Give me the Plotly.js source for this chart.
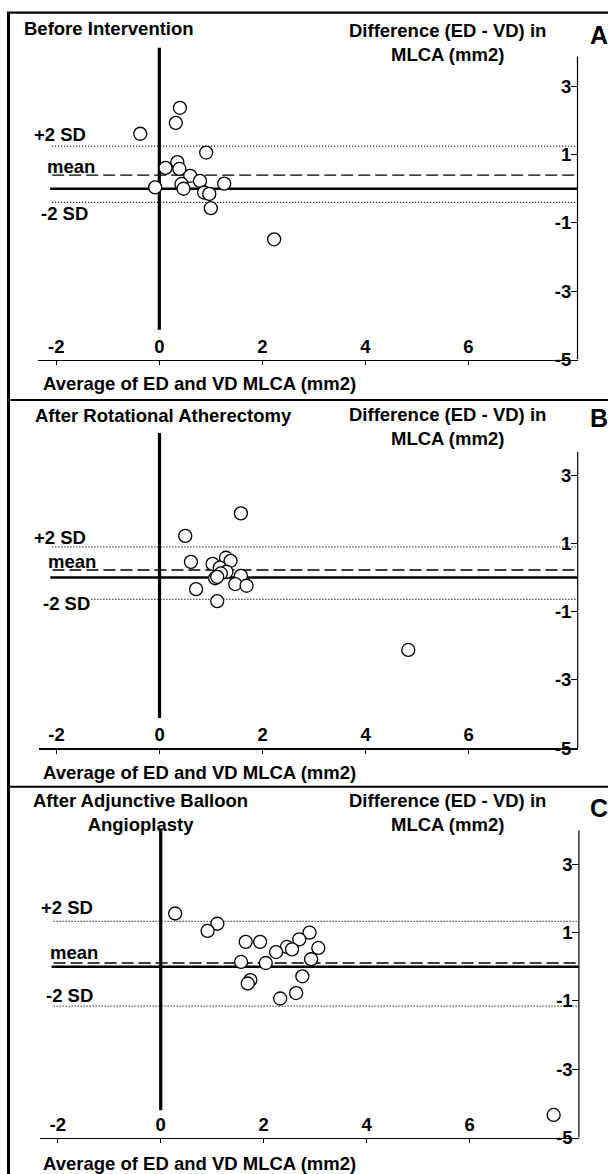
<!DOCTYPE html>
<html><head><meta charset="utf-8">
<script src="https://cdn.plot.ly/plotly-3.0.1.min.js"></script>
<style>html,body{margin:0;padding:0;background:#fff;} #chart{width:608px;height:1174px;}</style>
</head><body><div id="chart"></div>
<script>
// ---- data ----
const panelTitles = ['Before Intervention', 'After Rotational Atherectomy', 'After Adjunctive Balloon<br>Angioplasty'];
const panelLetters = ['A', 'B', 'C'];
const yAxisTitle = 'Difference (ED - VD) in<br>MLCA (mm2)';
const xAxisTitle = 'Average of ED and VD MLCA (mm2)';
const sdLabels = ['+2 SD', 'mean', '-2 SD'];
const xTickVals = [-2, 0, 2, 4, 6];
const xTickText = ['-2', '0', '2', '4', '6'];
const yTickVals = [3, 1, -1, -3, -5];
const yTickText = ['3', '1', '-1', '-3', '-5'];

const aX = [0.40, 0.32, -0.37, 0.91, 0.35, 0.12, 0.39, 0.60, 0.79, 1.26, 0.43, 0.47, -0.08, 0.87, 0.97, 1.00, 2.23];
const aY = [2.37, 1.93, 1.61, 1.06, 0.78, 0.61, 0.58, 0.38, 0.23, 0.15, 0.14, 0.00, 0.04, -0.11, -0.15, -0.57, -1.48];

const bX = [1.58, 0.50, 0.61, 1.03, 1.29, 1.38, 1.17, 1.30, 1.58, 1.47, 1.69, 0.71, 1.12, 1.19, 1.08, 1.12, 4.83];
const bY = [1.88, 1.22, 0.46, 0.40, 0.58, 0.49, 0.29, 0.17, 0.05, -0.19, -0.24, -0.34, -0.69, 0.12, -0.02, 0.02, -2.12];

const cX = [0.28, 1.10, 0.91, 1.65, 1.93, 2.89, 2.69, 2.45, 2.55, 2.24, 3.06, 2.92, 1.56, 2.04, 1.74, 1.69, 2.75, 2.63, 2.32, 7.63];
const cY = [1.56, 1.26, 1.05, 0.73, 0.73, 1.00, 0.80, 0.58, 0.51, 0.43, 0.55, 0.22, 0.14, 0.11, -0.39, -0.49, -0.28, -0.77, -0.93, -4.34];

const meanDiff = [0.40, 0.22, 0.11];
const upperLimit = [1.25, 0.90, 1.33];
const lowerLimit = [-0.40, -0.64, -1.15];

// ---- layout geometry (pixels) ----
const W = 608, H = 1174;
const px = x => x / W;
const py = y => 1 - y / H;
const unitPx = 34.15, yMin = -5, yMax = 4.3, xMin = -2.35, xMax = 8.12, lineStart = -2.12;
const geom = [
  {xl: 38.3, xr: 577.5, yb: 359.5, axisTop: 3.87, vTop: 4.13, vBot: -4.13, titleX: 22, titleY: 29, ytY: 42, letterY: 35, xtY: 383,
   lab: [{x: -1.38, dy: 12}, {x: -1.21, dy: 9}, {x: -1.35, dy: -11}]},
  {xl: 38.5, xr: 577.7, yb: 748.3, axisTop: 3.68, vTop: 4.23, vBot: -4.11, titleX: 33, titleY: 415, ytY: 426.5, letterY: 418, xtY: 772,
   lab: [{x: -1.38, dy: 9}, {x: -1.19, dy: 8.5}, {x: -1.34, dy: -4, bg: true}]},
  {xl: 39.7, xr: 578.9, yb: 1137.5, axisTop: 3.99, vTop: 4.05, vBot: -4.2, titleX: 140.5, titleY: 812.5, ytY: 812.5, letterY: 808, xtY: 1163,
   lab: [{x: -1.28, dy: 14}, {x: -1.17, dy: 10}, {x: -1.28, dy: 11}]}
];

const FONT = 'Liberation Sans, Arial, Helvetica, sans-serif';
const bold = (size) => ({family: FONT, size: size, color: '#000', weight: 700});
const FS = 18.5;

const seriesX = [aX, bX, cX], seriesY = [aY, bY, cY];
const traces = [], shapes = [], annotations = [];
const layout = {
  width: W, height: H, margin: {l: 0, r: 0, t: 0, b: 0},
  paper_bgcolor: '#fff', plot_bgcolor: 'rgba(0,0,0,0)', showlegend: false,
  font: bold(FS)
};

for (let i = 0; i < 3; i++) {
  const g = geom[i];
  const sfx = i === 0 ? '' : String(i + 1);
  const xa = 'x' + sfx, ya = 'y' + sfx;
  const yt = g.yb - (yMax - yMin) * unitPx;
  layout['xaxis' + sfx] = {
    domain: [px(g.xl), px(g.xr)], range: [xMin, xMax], anchor: ya,
    showgrid: false, zeroline: false, showline: true, linecolor: '#000', linewidth: 1.5,
    tickmode: 'array', tickvals: xTickVals, ticktext: xTickText,
    ticks: 'outside', ticklen: 4, tickwidth: 1, tickcolor: '#000',
    ticklabelposition: 'inside', ticklabeloverflow: 'allow', ticklabelstandoff: 4, tickfont: bold(FS)
  };
  layout['yaxis' + sfx] = {
    domain: [py(g.yb), py(yt)], range: [yMin, yMax], anchor: xa, side: 'right',
    showgrid: false, zeroline: false, showline: false,
    tickmode: 'array', tickvals: yTickVals, ticktext: yTickText,
    ticks: 'inside', ticklen: 7, tickwidth: 1, tickcolor: '#000',
    ticklabelposition: 'inside', ticklabeloverflow: 'allow', tickfont: bold(FS)
  };
  // right-hand y axis line
  shapes.push({type: 'line', xref: xa + ' domain', yref: ya, x0: 1, x1: 1, y0: yMin, y1: g.axisTop,
    line: {color: '#000', width: 1.2}, layer: 'below'});
  // vertical zero line
  shapes.push({type: 'line', xref: xa, yref: 'paper', x0: 0, x1: 0,
    y0: py(g.yb - (g.vBot - yMin) * unitPx), y1: py(g.yb - (g.vTop - yMin) * unitPx),
    line: {color: '#000', width: 3.2}, layer: 'below'});
  // horizontal zero line
  shapes.push({type: 'line', xref: xa, yref: ya, x0: lineStart, x1: xMax, y0: 0, y1: 0,
    line: {color: '#000', width: 2.6}, layer: 'below'});
  // limits of agreement + mean
  shapes.push({type: 'line', xref: xa, yref: ya, x0: lineStart + 0.04, x1: xMax, y0: upperLimit[i], y1: upperLimit[i],
    line: {color: '#000', width: 1.3, dash: '1px,2px'}, layer: 'below'});
  shapes.push({type: 'line', xref: xa, yref: ya, x0: lineStart + 0.04, x1: xMax, y0: lowerLimit[i], y1: lowerLimit[i],
    line: {color: '#000', width: 1.3, dash: '1px,2px'}, layer: 'below'});
  shapes.push({type: 'line', xref: xa, yref: ya, x0: lineStart + 0.04, x1: xMax, y0: meanDiff[i], y1: meanDiff[i],
    line: {color: '#000', width: 1.4, dash: '12px,5px'}, layer: 'below'});

  traces.push({
    type: 'scatter', mode: 'markers', x: seriesX[i], y: seriesY[i], xaxis: xa, yaxis: ya,
    cliponaxis: false, hoverinfo: 'skip',
    marker: {symbol: 'circle', size: 13, color: '#fff', line: {color: '#000', width: 1.3}}
  });

  const lineVals = [upperLimit[i], meanDiff[i], lowerLimit[i]];
  for (let k = 0; k < 3; k++) {
    const L = g.lab[k];
    const ann = {xref: xa, yref: ya, x: L.x, y: lineVals[k], xanchor: 'right', yanchor: 'middle',
      yshift: L.dy, showarrow: false, text: sdLabels[k], font: bold(FS)};
    if (L.bg) { ann.bgcolor = '#fff'; ann.borderpad = 0; }
    annotations.push(ann);
  }

  annotations.push({xref: 'paper', yref: 'paper', x: px(g.titleX), y: py(g.titleY),
    xanchor: i === 2 ? 'center' : 'left', yanchor: 'middle', align: 'center',
    showarrow: false, text: panelTitles[i], font: bold(FS)});
  annotations.push({xref: 'paper', yref: 'paper', x: px(447), y: py(g.ytY), xanchor: 'center', yanchor: 'middle',
    align: 'center', showarrow: false, text: yAxisTitle, font: bold(FS)});
  annotations.push({xref: 'paper', yref: 'paper', x: px(599), y: py(g.letterY), xanchor: 'center', yanchor: 'middle',
    showarrow: false, text: panelLetters[i], font: bold(25)});
  annotations.push({xref: 'paper', yref: 'paper', x: px(41), y: py(g.xtY), xanchor: 'left', yanchor: 'middle',
    showarrow: false, text: xAxisTitle, font: bold(FS)});
}

// figure frame
shapes.push({type: 'line', xref: 'paper', yref: 'paper', x0: px(7), x1: 1, y0: py(12.7), y1: py(12.7), line: {color: '#000', width: 2.2}});
shapes.push({type: 'line', xref: 'paper', yref: 'paper', x0: px(7), x1: 1, y0: py(400), y1: py(400), line: {color: '#000', width: 2}});
shapes.push({type: 'line', xref: 'paper', yref: 'paper', x0: px(7), x1: 1, y0: py(786.7), y1: py(786.7), line: {color: '#000', width: 2}});
shapes.push({type: 'line', xref: 'paper', yref: 'paper', x0: px(8.5), x1: px(8.5), y0: py(12), y1: 0, line: {color: '#000', width: 3}});

layout.shapes = shapes;
layout.annotations = annotations;

Plotly.newPlot('chart', traces, layout, {staticPlot: true, displayModeBar: false});
</script>
</body></html>
